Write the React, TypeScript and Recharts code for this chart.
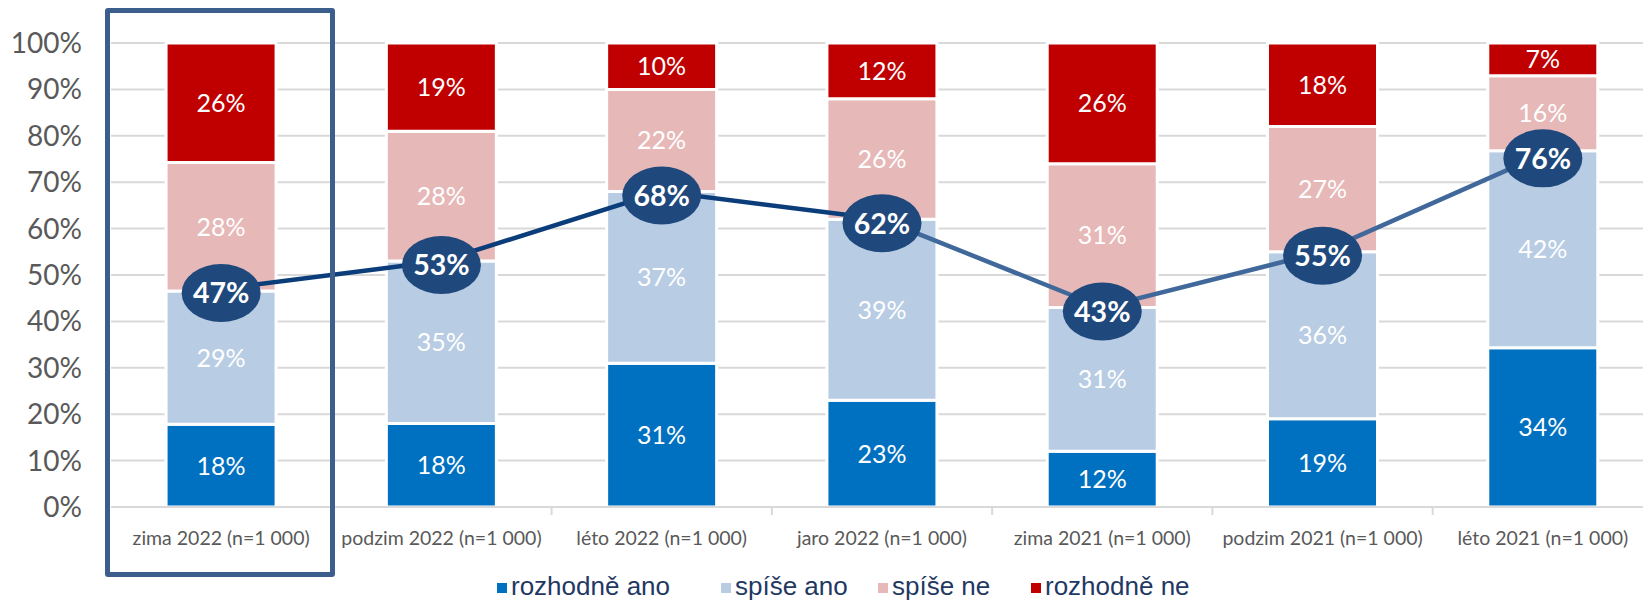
import React from "react";
import {
  ComposedChart, Bar, Line, XAxis, YAxis, CartesianGrid, LabelList, Legend,
} from "recharts";

const CATEGORIES = [
  "zima 2022 (n=1 000)",
  "podzim 2022 (n=1 000)",
  "léto 2022 (n=1 000)",
  "jaro 2022 (n=1 000)",
  "zima 2021 (n=1 000)",
  "podzim 2021 (n=1 000)",
  "léto 2021 (n=1 000)",
];

const ROZHODNE_ANO = [18, 18, 31, 23, 12, 19, 34];
const SPISE_ANO = [29, 35, 37, 39, 31, 36, 42];
const SPISE_NE = [28, 28, 22, 26, 31, 27, 16];
const ROZHODNE_NE = [26, 19, 10, 12, 26, 18, 7];
const CELKEM_ANO = [47, 53, 68, 62, 43, 55, 76];

const Y_TICKS = [0, 10, 20, 30, 40, 50, 60, 70, 80, 90, 100];

// the trend line switches colour at "jaro 2022"
const SPLIT_INDEX = 3;

const SERIES = [
  { key: "ra", name: "rozhodně ano", color: "#0070C0" },
  { key: "sa", name: "spíše ano", color: "#B8CCE4" },
  { key: "sn", name: "spíše ne", color: "#E6B8B7" },
  { key: "rn", name: "rozhodně ne", color: "#C00000" },
];

// legend slot widths, like Excel spreads them
const LEGEND_SLOTS = [224, 157, 153, 180];

// bars are drawn as a 100% stack (stackOffset="expand"), so the line
// shares the 0..1 axis
const data = CATEGORIES.map((name, i) => ({
  name,
  ra: ROZHODNE_ANO[i],
  sa: SPISE_ANO[i],
  sn: SPISE_NE[i],
  rn: ROZHODNE_NE[i],
  total: CELKEM_ANO[i],
  share: CELKEM_ANO[i] / 100,
  dark: i <= SPLIT_INDEX ? CELKEM_ANO[i] / 100 : null,
  light: i >= SPLIT_INDEX ? CELKEM_ANO[i] / 100 : null,
}));

const FONT = "Lato, 'Open Sans', sans-serif";
const TICK_GAP = 24;

function EllipseLabel(props: any) {
  const { x, y, value } = props;
  if (x == null || y == null || value == null) return null;
  const cy = y + 4;
  return (
    <g>
      <ellipse cx={x} cy={cy} rx={39.5} ry={29} fill="#1F497D" />
      <text
        x={x}
        y={cy}
        dy="0.36em"
        textAnchor="middle"
        fill="#fff"
        fontFamily={FONT}
        fontWeight={700}
        fontSize={28.5}
      >
        {value}%
      </text>
    </g>
  );
}

// category label plus a small tick on the boundary to the next category
function CategoryTick(props: any) {
  const { x, y, payload } = props;
  const half = payload && typeof payload.offset === "number" ? payload.offset : 0;
  const axisY = y - TICK_GAP;
  return (
    <g>
      {half > 0 && (
        <line
          x1={x + half}
          x2={x + half}
          y1={axisY}
          y2={axisY + 8}
          stroke="#D9D9D9"
          strokeWidth={2}
        />
      )}
      <text
        x={x}
        y={y}
        dy="0.71em"
        textAnchor="middle"
        fill="#595959"
        fontSize={19.5}
        fontFamily={FONT}
      >
        {payload.value}
      </text>
    </g>
  );
}

function renderLegend() {
  return (
    <div
      style={{
        display: "flex",
        alignItems: "center",
        fontFamily: "'Liberation Sans', Arial, sans-serif",
        fontSize: 26,
        color: "#1F3864",
        whiteSpace: "nowrap",
      }}
    >
      {SERIES.map((s, i) => (
        <span key={s.key} style={{ display: "flex", alignItems: "center", width: LEGEND_SLOTS[i] }}>
          <span style={{ width: 10, height: 10, background: s.color, marginRight: 4, marginTop: 2 }} />
          {s.name}
        </span>
      ))}
    </div>
  );
}

export default function App() {
  return (
    <div
      style={{
        position: "absolute",
        left: 0,
        top: 0,
        width: 1643,
        height: 600,
        overflow: "hidden",
        background: "#fff",
      }}
    >
      <ComposedChart
        width={1660}
        height={600}
        data={data}
        stackOffset="expand"
        barCategoryGap="25%"
        margin={{ top: 43, right: 7, left: 0, bottom: 53 }}
      >
        <CartesianGrid vertical={false} stroke="#D9D9D9" strokeWidth={2} />
        <XAxis
          dataKey="name"
          height={40}
          axisLine={{ stroke: "#D9D9D9", strokeWidth: 2 }}
          tickLine={false}
          tickSize={0}
          tickMargin={TICK_GAP}
          interval={0}
          tick={CategoryTick}
        />
        <YAxis
          width={111}
          domain={[0, 1]}
          ticks={Y_TICKS.map((t) => t / 100)}
          tickFormatter={(v) => `${Math.round(v * 100)}%`}
          axisLine={false}
          tickLine={false}
          tickSize={0}
          tickMargin={29}
          tick={{ fill: "#595959", fontSize: 28, fontFamily: FONT }}
        />
        {SERIES.map((s) => (
          <Bar
            key={s.key}
            dataKey={s.key}
            name={s.name}
            stackId="a"
            fill={s.color}
            stroke="#fff"
            strokeWidth={3}
            isAnimationActive={false}
          >
            <LabelList
              dataKey={s.key}
              position="center"
              formatter={(v: any) => `${v}%`}
              fill="#fff"
              fontSize={25}
              fontFamily={FONT}
            />
          </Bar>
        ))}
        <Line
          dataKey="dark"
          stroke="#0B3D7A"
          strokeWidth={4.5}
          dot={false}
          activeDot={false}
          legendType="none"
          isAnimationActive={false}
        />
        <Line
          dataKey="light"
          stroke="#41689B"
          strokeWidth={4.5}
          dot={false}
          activeDot={false}
          legendType="none"
          isAnimationActive={false}
        />
        <Line
          dataKey="share"
          stroke="none"
          dot={false}
          activeDot={false}
          legendType="none"
          isAnimationActive={false}
        >
          <LabelList dataKey="total" content={EllipseLabel} />
        </Line>
        <Legend
          layout="horizontal"
          verticalAlign="middle"
          align="center"
          content={renderLegend}
          wrapperStyle={{ position: "absolute", left: 497, top: 571, width: "auto" }}
        />
      </ComposedChart>
      <div
        style={{
          position: "absolute",
          left: 105,
          top: 8,
          width: 230,
          height: 569,
          border: "5px solid #3B5E8C",
          borderRadius: 3,
          boxSizing: "border-box",
          pointerEvents: "none",
        }}
      />
    </div>
  );
}
